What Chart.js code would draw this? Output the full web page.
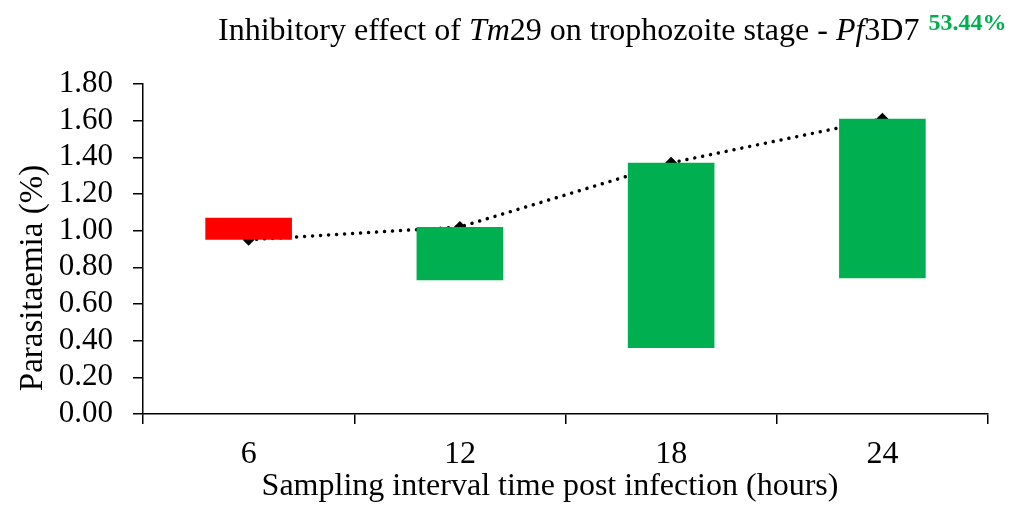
<!DOCTYPE html>
<html>
<head>
<meta charset="utf-8">
<script src="https://cdn.jsdelivr.net/npm/chart.js@4.4.0/dist/chart.umd.min.js"></script>
<style>
  html, body { margin: 0; padding: 0; background: #fff; }
  #wrap { width: 1028px; height: 506px; }
</style>
</head>
<body>
<div id="wrap"><canvas id="chart" width="1028" height="506"></canvas></div>
<script>
// Sampling times (hours post infection)
const categories = ['6', '12', '18', '24'];
// Up/down bars run from the control value to the treated value
const controlValues = [1.07, 0.73, 0.36, 0.74];
const treatedValues = [0.95, 1.02, 1.37, 1.61];
const yMin = 0;
const yMax = 1.8;
const yStep = 0.2;

const titleParts = [
    ['Inhibitory effect of ', false],
    ['Tm', true],
    ['29 on trophozoite stage - ', false],
    ['Pf', true],
    ['3D7', false]
];
const inhibitionLabel = '53.44%';
const xTitle = 'Sampling interval time post infection (hours)';
const yTitle = 'Parasitaemia (%)';

const SERIF = '"Liberation Serif", "Times New Roman", serif';
Chart.defaults.font.family = SERIF;
Chart.defaults.color = '#000';

// Title, badge and axis titles drawn by hand (mixed italic runs)
const textPlugin = {
    id: 'textPlugin',
    afterDraw(chart) {
        const ctx = chart.ctx;
        ctx.save();
        ctx.fillStyle = '#000';
        ctx.textBaseline = 'alphabetic';
        ctx.textAlign = 'left';

        let x = 218;
        titleParts.forEach(([txt, italic]) => {
            ctx.font = (italic ? 'italic ' : '') + '32px ' + SERIF;
            ctx.fillText(txt, x, 40);
            x += ctx.measureText(txt).width;
        });

        ctx.font = 'bold 24px ' + SERIF;
        ctx.fillStyle = '#00B050';
        ctx.fillText(inhibitionLabel, x + 9, 30);

        ctx.fillStyle = '#000';
        ctx.font = '32px ' + SERIF;
        ctx.textAlign = 'center';
        ctx.fillText(xTitle, 550, 495);

        ctx.font = '33px ' + SERIF;
        ctx.translate(42, 278);
        ctx.rotate(-Math.PI / 2);
        ctx.fillText(yTitle, 0, 0);
        ctx.restore();
    }
};

new Chart(document.getElementById('chart'), {
    data: {
        labels: categories,
        datasets: [{
            type: 'bar',
            data: categories.map((c, i) => [controlValues[i], treatedValues[i]]),
            backgroundColor: categories.map((c, i) =>
                treatedValues[i] < controlValues[i] ? '#FF0000' : '#00B050'),
            borderWidth: 0,
            barPercentage: 0.41,
            categoryPercentage: 1,
            order: 0
        }, {
            type: 'line',
            data: treatedValues,
            borderColor: '#000',
            borderWidth: 3.5,
            borderDash: [0.01, 8],
            borderCapStyle: 'round',
            tension: 0,
            pointStyle: 'rectRot',
            pointRadius: 6,
            pointBackgroundColor: '#000',
            pointBorderWidth: 0,
            order: 1
        }]
    },
    options: {
        responsive: false,
        animation: false,
        layout: { padding: { top: 84, right: 40, bottom: 0, left: 0 } },
        plugins: {
            legend: { display: false },
            tooltip: { enabled: false },
            title: { display: false }
        },
        scales: {
            x: {
                afterFit: s => { s.height = 92; },
                grid: {
                    display: true,
                    offset: true,
                    drawOnChartArea: false,
                    tickLength: 10,
                    color: '#000',
                    lineWidth: 1.5
                },
                border: { display: true, color: '#000', width: 1.5 },
                ticks: { font: { size: 32 }, padding: 11, color: '#000' }
            },
            y: {
                min: yMin,
                max: yMax,
                afterFit: s => { s.width = 143; },
                grid: {
                    display: true,
                    drawOnChartArea: false,
                    tickLength: 10,
                    color: '#000',
                    lineWidth: 1.5
                },
                border: { display: true, color: '#000', width: 1.5 },
                ticks: {
                    stepSize: yStep,
                    autoSkip: false,
                    padding: 20,
                    font: { size: 31 },
                    color: '#000',
                    callback: v => Number(v).toFixed(2)
                }
            }
        }
    },
    plugins: [textPlugin]
});
</script>
</body>
</html>
